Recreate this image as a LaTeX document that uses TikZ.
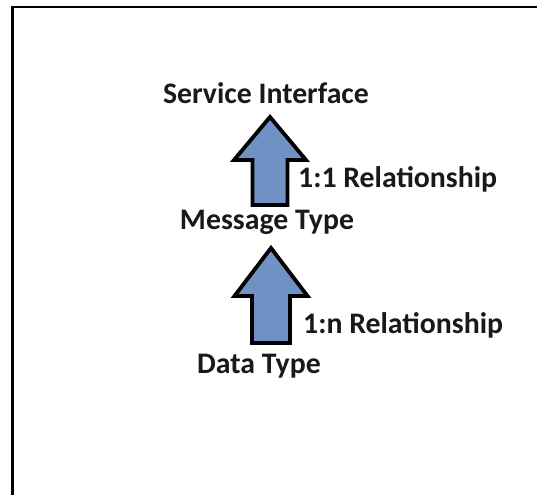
\documentclass[tikz,border=0pt]{standalone}
\usepackage{fontspec}
\setmainfont{Carlito}
\usepackage{xcolor}
\definecolor{arrowblue}{RGB}{112,145,196}

\tikzset{
  label text/.style={font=\fontsize{29.8}{35}\bfseries\selectfont, inner sep=0pt, text=black!90},
  blockarrow/.style={draw=black, line width=3.8pt, fill=arrowblue, line join=miter},
}

\begin{document}
\begin{tikzpicture}[x=1pt, y=-1pt]
\useasboundingbox (0,0) rectangle (537,495);
% frame
\draw[line width=2.6pt] (12.3,495) -- (12.3,7) -- (537,7);

\node[label text, anchor=base] (si) at (266,103) {Service Interface};
\node[label text, anchor=base] (mt) at (267,229) {Message Type};
\node[label text, anchor=base] (dt) at (259,373) {Data Type};
\node[label text, anchor=base west] (r11) at (298,187) {1:1 Relationship};
\node[label text, anchor=base west] (r1n) at (303,333) {1:n Relationship};

% block arrows, from shaft foot upwards
\begin{scope}[shift={(270,205)}]
\draw[blockarrow] (-17.5,0) -- (-17.5,-45) -- (-36,-45) -- (0,-88) -- (36,-45) -- (17.5,-45) -- (17.5,0) -- cycle;
\end{scope}
\begin{scope}[shift={(271,343)}]
\draw[blockarrow] (-19,0) -- (-19,-47) -- (-36.5,-47) -- (0,-95) -- (36.5,-47) -- (19,-47) -- (19,0) -- cycle;
\end{scope}
\end{tikzpicture}
\end{document}
